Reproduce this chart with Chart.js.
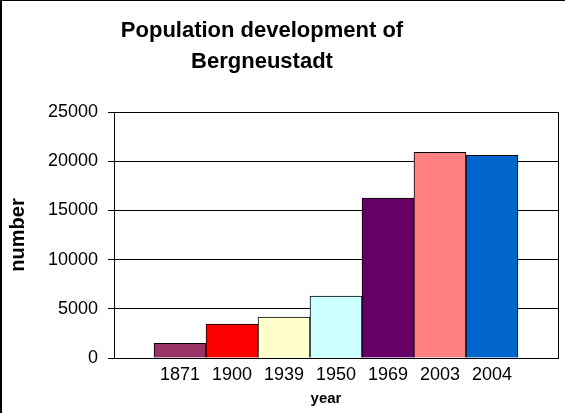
<!DOCTYPE html>
<html>
<head>
<meta charset="utf-8">
<script src="https://cdn.jsdelivr.net/npm/chart.js@4/dist/chart.umd.min.js"></script>
<style>
  body { margin: 0; background: #fff; }
  #wrap { width: 565px; height: 413px; }
</style>
</head>
<body>
<div id="wrap"><canvas id="grafico" width="565" height="413"></canvas></div>
<script>
const years = ["1871", "1900", "1939", "1950", "1969", "2003", "2004"];
const population = [1500, 3450, 4150, 6300, 16250, 20900, 20600];
const barColors = ["#993366", "#FF0000", "#FFFFCC", "#CCFFFF", "#660066", "#FF8080", "#0066CC"];
const yTicks = [0, 5000, 10000, 15000, 20000, 25000];
const titleLines = ["Population development of", "Bergneustadt"];

const FONT = "Arial, 'Liberation Sans', sans-serif";

// frame, title, plot border and x title
const marco = {
  id: "marco",
  beforeDraw(chart) {
    const ctx = chart.ctx;
    ctx.save();
    ctx.fillStyle = "#fff";
    ctx.fillRect(0, 0, chart.width, chart.height);
    ctx.fillStyle = "#000";
    ctx.fillRect(0, 0, chart.width, 1);
    ctx.fillRect(0, 0, 2, chart.height);
    ctx.restore();
  },
  afterDatasetsDraw(chart) {
    const ctx = chart.ctx;
    const a = chart.chartArea;
    ctx.save();
    ctx.strokeStyle = "#000";
    ctx.lineWidth = 1;
    ctx.strokeRect(Math.round(a.left) + 0.5, Math.round(a.top) + 0.5,
      Math.round(a.right - a.left), Math.round(a.bottom - a.top));
    ctx.fillStyle = "#000";
    ctx.textAlign = "center";
    ctx.textBaseline = "alphabetic";
    ctx.font = "bold 22px " + FONT;
    ctx.fillText(titleLines[0], 262, 37);
    ctx.fillText(titleLines[1], 262, 68);
    ctx.font = "bold 15px " + FONT;
    ctx.fillText("year", 326, 403);
    ctx.restore();
  }
};

const data = {
  datasets: [{
    data: population.map((v, i) => ({ x: i, y: v })),
    backgroundColor: barColors,
    borderColor: "#000",
    borderWidth: 1,
    barPercentage: 1,
    categoryPercentage: 1,
  }]
};

const config = {
  type: "bar",
  data,
  options: {
    responsive: false,
    animation: false,
    layout: { padding: { top: 112, right: 7, left: 0, bottom: 0 } },
    plugins: {
      legend: { display: false },
      tooltip: { enabled: false },
    },
    scales: {
      x: {
        type: "linear",
        offset: false,
        bounds: "data",
        min: -1.27,
        max: 7.27,
        afterBuildTicks: (scale) => {
          scale.ticks = years.map((y, i) => ({ value: i }));
        },
        afterFit: (scale) => { scale.height = 55; },
        ticks: {
          callback: (v) => years[v] ?? "",
          color: "#000",
          font: { family: FONT, size: 18 },
          padding: 6,
          maxRotation: 0,
          autoSkip: false,
        },
        grid: { display: false, drawTicks: false, tickLength: 0 },
        border: { display: false },
      },
      y: {
        min: 0,
        max: 25000,
        afterBuildTicks: (scale) => {
          scale.ticks = yTicks.map((v) => ({ value: v }));
        },
        afterFit: (scale) => { scale.width = 114; },
        ticks: {
          callback: (v) => String(v),
          color: "#000",
          font: { family: FONT, size: 18 },
          padding: 10,
        },
        grid: { color: "#000", tickLength: 6, tickColor: "#000" },
        border: { color: "#000" },
        title: {
          display: true,
          text: "number",
          color: "#000",
          font: { family: FONT, size: 20, weight: "bold" },
          padding: { top: 6, bottom: 0 },
        },
      },
    },
  },
  plugins: [marco],
};

const ctx = document.getElementById("grafico").getContext("2d");
const miTabla = new Chart(ctx, config);
</script>
</body>
</html>
